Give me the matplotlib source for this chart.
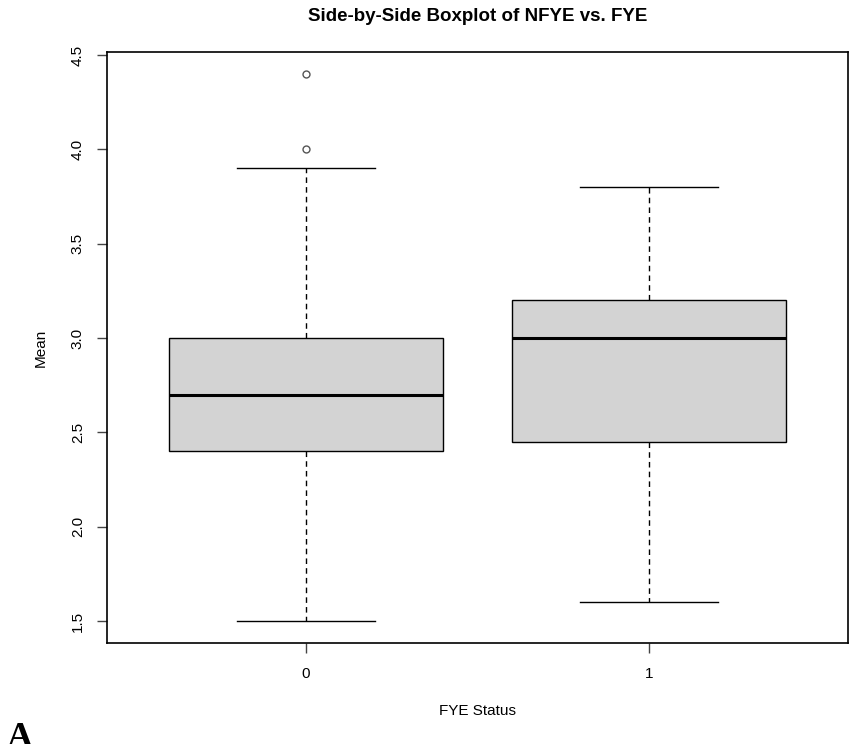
import matplotlib.pyplot as plt

plt.rcParams['font.family'] = ['Liberation Sans', 'DejaVu Sans']

groups = ['0', '1']
whisker_lo = [1.5, 1.6]
q1 = [2.4, 2.45]
median = [2.7, 3.0]
q3 = [3.0, 3.2]
whisker_hi = [3.9, 3.8]
outliers = [[4.0, 4.4], []]

stats = []
for i, g in enumerate(groups):
    stats.append({'label': g, 'whislo': whisker_lo[i], 'q1': q1[i], 'med': median[i],
                  'q3': q3[i], 'whishi': whisker_hi[i], 'fliers': outliers[i]})

fig = plt.figure(figsize=(8.49, 7.44), dpi=100)
ax = fig.add_axes([107 / 849, 1 - 643 / 744, 741 / 849, 591 / 744])

ax.bxp(stats, positions=[1, 2], widths=0.8, capwidths=0.4, patch_artist=True,
       boxprops=dict(facecolor='#d3d3d3', edgecolor='black', linewidth=1),
       medianprops=dict(color='black', linewidth=2.2),
       whiskerprops=dict(color='black', linewidth=1, linestyle=(0, (4, 3))),
       capprops=dict(color='black', linewidth=1),
       flierprops=dict(marker='o', markersize=5, markerfacecolor='none',
                       markeredgecolor='#555555', markeredgewidth=1))

ax.set_xlim(0.42, 2.58)
ax.set_ylim(1.384, 4.516)
ax.set_yticks([1.5, 2.0, 2.5, 3.0, 3.5, 4.0, 4.5])
ax.set_yticklabels(['1.5', '2.0', '2.5', '3.0', '3.5', '4.0', '4.5'],
                   rotation=90, va='center')
ax.tick_params(axis='both', labelsize=11, length=7, width=1, color='#444444')
ax.tick_params(axis='x', pad=10)
ax.tick_params(axis='y', pad=9)
for s in ax.spines.values():
    s.set_linewidth(1.2)

ax.set_title('Side-by-Side Boxplot of NFYE vs. FYE', fontsize=13.5, fontweight='bold', pad=22.5)
ax.set_xlabel('FYE Status', fontsize=11)
ax.set_ylabel('Mean', fontsize=11)
ax.xaxis.set_label_coords(0.5, -0.104)
ax.yaxis.set_label_coords(-0.0796, 0.5)

fig.text(0.008, -0.004, 'A', fontfamily='Liberation Serif', fontweight='bold',
         fontsize=26, va='baseline')

fig.savefig('out.png', dpi=100)
